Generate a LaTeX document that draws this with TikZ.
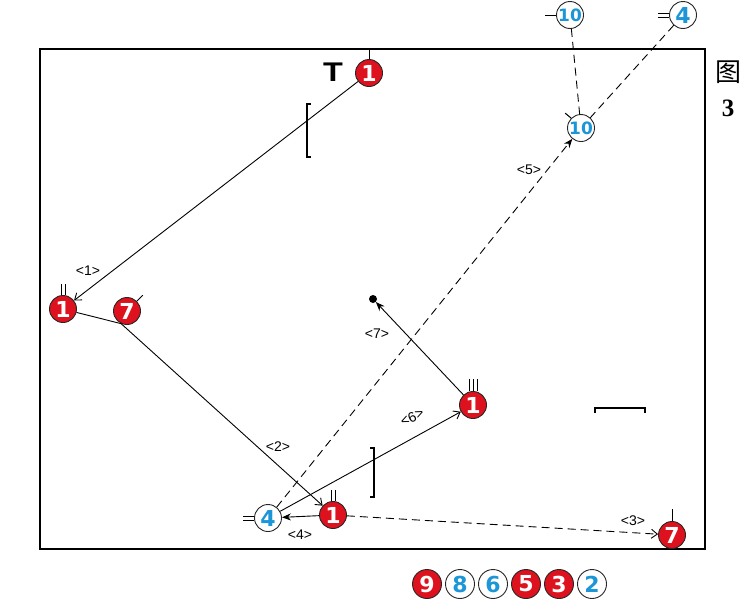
\documentclass[tikz,border=0pt]{standalone}
\usepackage{fontspec}
\setmainfont{Liberation Sans}
\newfontfamily\cjkfont{Noto Sans CJK SC}
\newfontfamily\serifnum{Liberation Serif}
\newfontfamily\heavynum{DejaVu Sans}
\usetikzlibrary{arrows.meta}
\definecolor{manred}{RGB}{222,18,30}
\definecolor{manblue}{RGB}{28,150,215}

\begin{document}
\begin{tikzpicture}[
    x=1pt, y=-1pt,
    >=stealth,
    font=\fontsize{14}{14}\selectfont,
    redman/.style={
        circle,
        draw=black!85,
        line width=0.9pt,
        fill=manred,
        minimum size=27pt,
        inner sep=0pt,
        text=white,
        font=\heavynum\fontsize{22}{22}\selectfont\bfseries
    },
    blueman/.style={
        circle,
        draw=black!85,
        line width=0.9pt,
        fill=white,
        minimum size=27pt,
        inner sep=0pt,
        text=manblue,
        font=\heavynum\fontsize{22}{22}\selectfont\bfseries
    },
    tag/.style={inner sep=1pt},
    tick/.style={line width=1pt},
    bracket/.style={line width=1.4pt},
    pass/.style={-{Straight Barb[length=6pt,width=9pt]}, line width=0.9pt},
    shot/.style={-{Stealth[length=9pt,width=7pt]}, line width=0.9pt},
    runline/.style={line width=0.9pt, dash pattern=on 8pt off 5pt}
]
\useasboundingbox (0,0) rectangle (746,600);

% pitch frame
\draw[line width=1.8pt] (40,49) rectangle (705,549);

% players on the pitch
\node[redman] (ktop) at (369,73) {1};
\node[redman] (kleft) at (63,309) {1};
\node[redman] (seven) at (127,311) {7};
\node[redman] (kbot) at (333,515) {1};
\node[blueman] (four) at (268,518) {4};
\node[redman] (kright) at (473,405) {1};
\node[blueman, font=\heavynum\fontsize{17}{17}\selectfont\bfseries] (tenmid) at (581,128) {10};
\node[blueman, font=\heavynum\fontsize{17}{17}\selectfont\bfseries] (tentop) at (570,15) {10};
\node[blueman] (fourtop) at (683,15) {4};
\node[redman] (sevenbr) at (672,535) {7};
\node[circle, fill=black, minimum size=8pt, inner sep=0pt] (spot) at (373,299) {};

% marks beside the players
\node[font=\fontsize{27}{27}\selectfont\bfseries, xscale=1.2] (tmark) at (333,72) {T};
\draw[tick] (ktop.north) -- (ktop.north |- 0,49);
\draw[tick] ([xshift=-2pt]kleft.north) -- ++(0,-11);
\draw[tick] ([xshift=2pt]kleft.north) -- ++(0,-11);
\draw[tick] (seven.45) -- ++(6,-6);
\draw[tick] ([xshift=-2pt]kbot.north) -- ++(0,-11);
\draw[tick] ([xshift=2pt]kbot.north) -- ++(0,-11);
\draw[tick] ([yshift=-2pt]four.west) -- ++(-11,0);
\draw[tick] ([yshift=2pt]four.west) -- ++(-11,0);
\draw[tick] ([xshift=-4pt]kright.north) -- ++(0,-12);
\draw[tick] (kright.north) -- ++(0,-12);
\draw[tick] ([xshift=4pt]kright.north) -- ++(0,-12);
\draw[tick] (tenmid.135) -- ++(-6,-5);
\draw[tick] (tentop.west) -- ++(-11,0);
\draw[tick] ([yshift=-2pt]fourtop.west) -- ++(-11,0);
\draw[tick] ([yshift=2pt]fourtop.west) -- ++(-11,0);
\draw[tick] (sevenbr.north) -- ++(0,-12);

% brackets
\draw[bracket] (311,104) -- (307,104) -- (307,157) -- (311,157);
\draw[bracket] (370,448) -- (374,448) -- (374,497) -- (370,497);
\draw[bracket] (595,413) -- (595,408) -- (645,408) -- (645,413);

% moves
\draw[pass] (ktop) -- (kleft);
\draw[line width=0.9pt] (kleft) -- (seven.245);
\draw[pass] (seven.245) -- (kbot);
\draw[runline, -{Straight Barb[length=6pt,width=9pt]}] (kbot) -- (sevenbr);
\draw[shot] (kbot) -- (four);
\draw[runline, -{Stealth[length=9pt,width=7pt]}] (four) -- (tenmid);
\draw[pass] (four) -- (kright);
\draw[shot] (kright) -- (spot);
\draw[runline] (tentop) -- (tenmid);
\draw[runline] (fourtop) -- (tenmid);

% move labels
\node[tag] (lab1) at (88,271) {<1>};
\node[tag] (lab2) at (278,447) {<2>};
\node[tag] (lab3) at (633,521) {<3>};
\node[tag] (lab4) at (300,535) {<4>};
\node[tag] (lab5) at (529,170) {<5>};
\node[tag, rotate=25] (lab6) at (412,417) {<6>};
\node[tag] (lab7) at (377,334) {<7>};

% caption
\node[font=\cjkfont\fontsize{26}{26}\selectfont] (capfig) at (728,72) {图};
\node[font=\serifnum\fontsize{25}{25}\selectfont\bfseries] (capnum) at (728,108) {3};

% legend row
\foreach \n/\s [count=\i] in {9/redman,8/blueman,6/blueman,5/redman,3/redman,2/blueman}
    \node[\s, minimum size=29pt] (leg\i) at (394+33*\i,584) {\n};

\end{tikzpicture}
\end{document}
